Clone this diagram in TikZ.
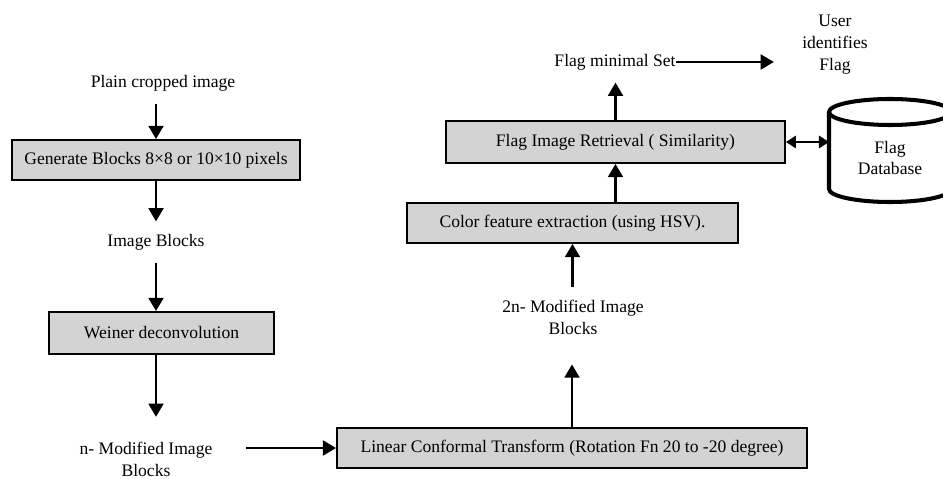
\documentclass[tikz,border=0pt]{standalone}
\usepackage{fontspec}
\setmainfont{Liberation Serif}
\usetikzlibrary{arrows.meta,positioning}
\definecolor{boxgray}{RGB}{211,211,211}

\begin{document}
\begin{tikzpicture}[x=0.02cm,y=-0.02cm,>={Triangle[length=7.5pt,width=8.5pt]},
  font=\fontsize{10}{12.5}\selectfont,
  procbox/.style={draw,line width=1.1pt,fill=boxgray,inner sep=0pt},
  lbl/.style={align=center,inner xsep=0pt,inner ysep=7pt},
  flow/.style={->,line width=1.2pt}]
\useasboundingbox (0,0) rectangle (943,479);
% left column
\node[lbl] (plain) at (163,83) {Plain cropped image};
\node[procbox,minimum width=5.76cm,minimum height=0.8cm] (gen) at (156,160) {Generate Blocks 8×8 or 10×10 pixels};
\node[lbl] (blocks) at (156,242) {Image Blocks};
\node[procbox,minimum width=4.5cm,minimum height=0.84cm] (wein) at (161.5,333) {Weiner deconvolution};
\node[lbl] (nmod) at (146,459) {n- Modified Image\\Blocks};
% right column
\node[procbox,minimum width=9.4cm,minimum height=0.8cm] (lct) at (572,448) {Linear Conformal Transform (Rotation Fn 20 to -20 degree)};
\node[lbl] (twon) at (573,317) {2n- Modified Image\\Blocks};
\node[procbox,minimum width=6.62cm,minimum height=0.8cm] (color) at (572.5,223) {Color feature extraction (using HSV).};
\node[procbox,minimum width=6.78cm,minimum height=0.84cm] (flag) at (615.5,142) {Flag Image Retrieval ( Similarity)};
\node[lbl] (fms) at (615,62) {Flag minimal Set};
\node[lbl] (user) at (835,45) {User\\identifies\\Flag};
% database
\coordinate (dbl) at (829,112);
\draw[line width=2.3pt] (dbl) -- (829,189) arc[start angle=180,end angle=360,x radius=1.22cm,y radius=0.26cm] -- (951,112);
\draw[line width=2.3pt] (890,112) ellipse [x radius=1.22cm,y radius=0.26cm];
\node[align=center] (db) at (890,158) {Flag\\Database};
% connectors
\draw[flow] (gen.north |- plain.south) -- (gen.north);
\draw[flow] (gen.south) -- (blocks.north);
\draw[flow] (blocks.south) -- (blocks.south |- wein.north);
\draw[flow,shorten >=7pt] (wein.south -| gen.south) -- (nmod.north -| gen.south);
\draw[flow,shorten <=19pt] (nmod.east |- lct.west) -- (lct.west);
\draw[flow,shorten >=10pt] (lct.north) -- (lct.north |- twon.south);
\draw[flow] (twon.north -| color.south) -- (color.south);
\draw[flow] (color.north -| flag.south) -- (flag.south);
\draw[flow] (flag.north) -- (flag.north |- fms.south);
\draw[flow,shorten >=16pt] (fms.east) -- (user.west |- fms.east);
\draw[{Triangle[length=5.7pt,width=7pt]}-{Triangle[length=5.7pt,width=7pt]},line width=1.2pt] (flag.east) -- (flag.east -| dbl);
\end{tikzpicture}
\end{document}
